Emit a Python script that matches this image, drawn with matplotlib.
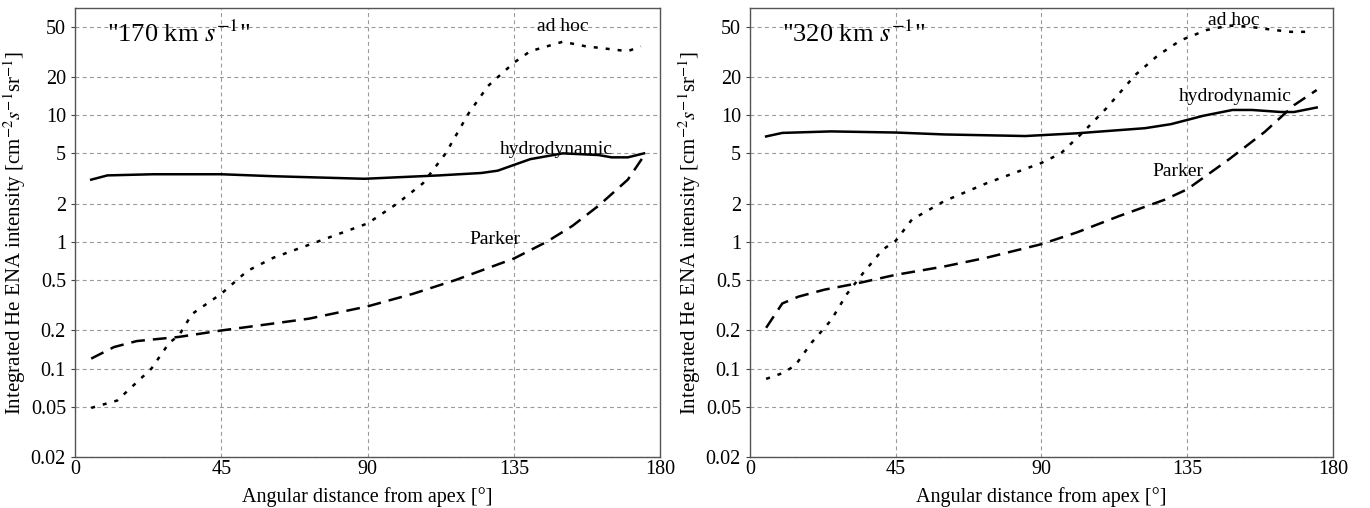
import matplotlib
matplotlib.use("Agg")
import matplotlib.pyplot as plt
from matplotlib.ticker import FixedLocator, FixedFormatter, NullLocator

plt.rcParams['font.family'] = ['Liberation Serif', 'DejaVu Serif']
plt.rcParams['mathtext.fontset'] = 'stix'

# ---- data: 170 km/s panel ----
hydro_x_170 = [5, 10, 24, 45, 61, 89, 112, 125, 130, 140, 150, 161, 165, 170, 175]
hydro_y_170 = [3.1, 3.35, 3.42, 3.42, 3.3, 3.15, 3.35, 3.5, 3.65, 4.5, 5.0, 4.85, 4.65, 4.65, 5.0]
adhoc_x_170 = [5, 13, 23.5, 29, 32, 36, 45, 53, 61, 72, 90, 99, 107, 114, 121, 127, 135, 140, 150, 157, 170, 174]
adhoc_y_170 = [0.049, 0.056, 0.1, 0.16, 0.183, 0.27, 0.39, 0.59, 0.75, 0.95, 1.4, 2.0, 2.9, 5.0, 10.3, 17, 26, 32, 38, 35, 32, 35]
parker_x_170 = [5, 12, 19, 32, 45, 61, 72, 90, 104, 117, 135, 145, 153, 161, 170, 175]
parker_y_170 = [0.12, 0.148, 0.165, 0.178, 0.2, 0.227, 0.248, 0.31, 0.39, 0.5, 0.74, 1.0, 1.34, 1.93, 3.1, 4.8]

# ---- data: 320 km/s panel ----
hydro_x_320 = [5, 10, 25, 45, 60, 85, 101, 122, 130, 140, 149, 155, 164, 168, 175]
hydro_y_320 = [6.8, 7.25, 7.45, 7.3, 7.05, 6.85, 7.2, 7.9, 8.5, 9.9, 11.0, 11.0, 10.6, 10.6, 11.5]
adhoc_x_320 = [5, 10, 14, 19, 25, 30, 35, 41, 45, 50, 60, 73, 90, 96, 103, 110, 119, 126, 133, 141, 148, 154, 162, 167, 172]
adhoc_y_320 = [0.083, 0.092, 0.106, 0.16, 0.24, 0.39, 0.57, 0.87, 1.02, 1.5, 2.1, 2.9, 4.2, 5.0, 7.4, 11.3, 20.8, 29.7, 39, 47, 51, 50, 47, 45.5, 45.5]
parker_x_320 = [5, 10, 15, 23, 33, 45, 60, 73, 90, 101, 114, 128, 135, 148, 159, 168, 175]
parker_y_320 = [0.21, 0.327, 0.37, 0.42, 0.47, 0.55, 0.64, 0.75, 0.96, 1.19, 1.6, 2.15, 2.6, 4.5, 7.4, 12, 15.8]

panels = [
    dict(title='"170 km $s^{-1}$"',
         hx=hydro_x_170, hy=hydro_y_170, ax_=adhoc_x_170, ay=adhoc_y_170,
         px=parker_x_170, py=parker_y_170,
         lab_adhoc=(150, 50), lab_hydro=(148, 5.4), lab_parker=(129, 1.05)),
    dict(title='"320 km $s^{-1}$"',
         hx=hydro_x_320, hy=hydro_y_320, ax_=adhoc_x_320, ay=adhoc_y_320,
         px=parker_x_320, py=parker_y_320,
         lab_adhoc=(149.5, 56), lab_hydro=(150, 14.0), lab_parker=(132, 3.6)),
]

yticks = [0.02, 0.05, 0.1, 0.2, 0.5, 1, 2, 5, 10, 20, 50]
ytick_labels = ['0.02', '0.05', '0.1', '0.2', '0.5', '1', '2', '5', '10', '20', '50']
xticks = [0, 45, 90, 135, 180]

fig = plt.figure(figsize=(13.7, 5.08), dpi=100)
positions = [[0.0547, 0.100, 0.4273, 0.884], [0.5474, 0.100, 0.4255, 0.884]]

for pos, p in zip(positions, panels):
    ax = fig.add_axes(pos)
    ax.set_yscale('log')
    ax.plot(p['hx'], p['hy'], color='black', lw=1.8, ls='-')
    ax.plot(p['ax_'], p['ay'], color='black', lw=1.8, ls=(0, (1.6, 3.2)))
    ax.plot(p['px'], p['py'], color='black', lw=1.8, ls=(0, (5.5, 3.2)))
    ax.set_xlim(0, 180)
    ax.set_ylim(0.02, 70)
    ax.yaxis.set_major_locator(FixedLocator(yticks))
    ax.yaxis.set_major_formatter(FixedFormatter(ytick_labels))
    ax.yaxis.set_minor_locator(NullLocator())
    ax.set_xticks(xticks)
    ax.set_xticklabels([str(v) for v in xticks])
    ax.tick_params(axis='both', which='major', labelsize=14.5, length=3, width=0.8,
                   direction='out', color='#444444')
    ax.tick_params(axis='x', length=0, pad=2)
    ax.grid(True, which='major', color='#999999', ls=(0, (3.5, 3)), lw=0.8)
    for s in ax.spines.values():
        s.set_color('#555555')
        s.set_linewidth(1.0)
    ax.set_xlabel('Angular distance from apex [°]', fontsize=14.5, labelpad=6)
    ax.set_ylabel('Integrated He ENA intensity [cm$^{-2}$$s^{-1}$sr$^{-1}$]', fontsize=15, labelpad=2)
    ax.text(10, 44, p['title'], fontsize=19, ha='left', va='center')
    ax.text(*p['lab_adhoc'], 'ad hoc', fontsize=14, ha='center', va='center')
    ax.text(*p['lab_hydro'], 'hydrodynamic', fontsize=14, ha='center', va='center')
    ax.text(*p['lab_parker'], 'Parker', fontsize=14, ha='center', va='center')

fig.savefig('out.png', dpi=100)
